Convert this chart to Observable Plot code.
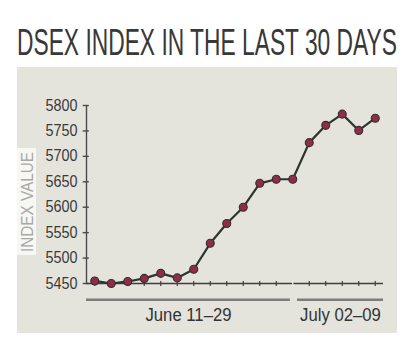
<!DOCTYPE html>
<html>
<head>
<meta charset="utf-8">
<script src="https://cdn.jsdelivr.net/npm/d3@7"></script>
<script src="https://cdn.jsdelivr.net/npm/@observablehq/plot@0.6"></script>
<style>
  html, body { margin: 0; padding: 0; background: #ffffff; }
  #wrap { position: relative; width: 417px; height: 357px; overflow: hidden; font-family: "Liberation Sans", Arial, sans-serif; }
  #title { position: absolute; left: 17px; top: 25px; font-size: 36px; line-height: 36px; color: #383838; white-space: nowrap; transform-origin: 0 0; }
  #panel { position: absolute; left: 17px; top: 67px; width: 380px; height: 266px; background: #e4e4dc; }
  #panel svg { position: absolute; left: 0; top: 0; overflow: visible; }
  #ylab { position: absolute; left: 0px; top: 81px; width: 19px; height: 107px; background: #f7f7f4; }
  #ylab span { position: absolute; left: 50%; top: 50%; font-size: 17px; line-height: 17px; color: #a8a8a6; white-space: nowrap; }
</style>
</head>
<body>
<div id="wrap">
  <div id="title">DSEX INDEX IN THE LAST 30 DAYS</div>
  <div id="panel">
    <div id="ylab"><span>INDEX VALUE</span></div>
  </div>
</div>
<script>
// Trading-day index (0 = first session shown)
const day = [0, 1, 2, 3, 4, 5, 6, 7, 8, 9, 10, 11, 12, 13, 14, 15, 16, 17];
// DSEX index closing values
const value = [5455, 5450, 5454, 5460, 5470, 5461, 5478, 5529, 5568, 5600, 5647, 5655, 5655, 5727, 5761, 5783, 5751, 5775];
// Y tick labels
const yTicks = [5450, 5500, 5550, 5600, 5650, 5700, 5750, 5800];
// Period groups
const groupLabel = ["June 11–29", "July 02–09"];
const groupFirst = [0, 12];
const groupLast = [12, 17];

const data = day.map((d, i) => ({day: d, value: value[i]}));

const xLo = -0.5, xHi = 17.5;
const groups = groupLabel.map((g, i) => ({
  label: g,
  x1: i === 0 ? xLo : groupFirst[i] + 0.29,
  x2: i === groupLabel.length - 1 ? xHi : groupLast[i] - 0.14
}));

const font = '"Liberation Sans", Arial, sans-serif';

const chart = Plot.plot({
  width: 380,
  height: 266,
  marginLeft: 69,
  marginRight: 14,
  marginTop: 38,
  marginBottom: 50,
  x: {domain: [xLo, xHi], axis: null},
  y: {domain: [yTicks[0], yTicks[yTicks.length - 1]], axis: null},
  style: {background: "transparent", fontFamily: font, overflow: "visible"},
  marks: [
    Plot.ruleX([xLo], {y1: yTicks[0], y2: yTicks[yTicks.length - 1], stroke: "#4a4a4a", strokeWidth: 1.4}),
    Plot.ruleY(yTicks, {x1: xLo - 0.2, x2: xLo + 0.17, stroke: "#4a4a4a", strokeWidth: 1.4}),
    Plot.text(yTicks, {x: xLo, y: d => d, text: d => String(d), textAnchor: "end", dx: -9, fontSize: 16, fill: "#3a3a3a", className: "ylabel"}),
    Plot.ruleY([yTicks[0]], {x1: xLo, x2: xHi, stroke: "#3e3e3e", strokeWidth: 1.6}),
    Plot.ruleX(day, {y1: yTicks[0] - 6, y2: yTicks[0] + 4, stroke: d => d === groupFirst[1] ? "#f2f2ee" : "#3e3e3e", strokeWidth: 1.2}),
    Plot.line(data, {x: "day", y: "value", stroke: "#2c362f", strokeWidth: 2.2}),
    Plot.dot(data, {x: "day", y: "value", r: 4, fill: "#8a2f47", stroke: "#3a2a2e", strokeWidth: 1.1}),
    Plot.ruleY(groups, {x1: "x1", x2: "x2", y: yTicks[0] - 32, stroke: "#7c7c7a", strokeWidth: 2.4}),
    Plot.text(groups, {x: d => (d.x1 + d.x2) / 2, y: yTicks[0] - 32, text: "label", dy: 15, lineAnchor: "middle", fontSize: 19, fill: "#333333", className: "glabel"})
  ]
});

document.getElementById("panel").appendChild(chart);

// condense text horizontally to mimic the narrow typeface
function squeeze(sel, k) {
  d3.select(chart).selectAll(sel).each(function() {
    const t = this.getAttribute("transform") || "";
    this.setAttribute("transform", t + ` scale(${k},1)`);
  });
}
squeeze(".ylabel text", 0.9);
squeeze(".glabel text", 0.88);

// title fitted to the panel width
const title = document.getElementById("title");
const tw = title.getBoundingClientRect().width;
title.style.transform = `scaleX(${380 / tw})`;

// rotated axis label fitted to its box
const ys = document.querySelector("#ylab span");
const yw = ys.getBoundingClientRect().width;
ys.style.transform = `translate(-50%, -50%) rotate(-90deg) scaleX(${100 / yw})`;
</script>
</body>
</html>
